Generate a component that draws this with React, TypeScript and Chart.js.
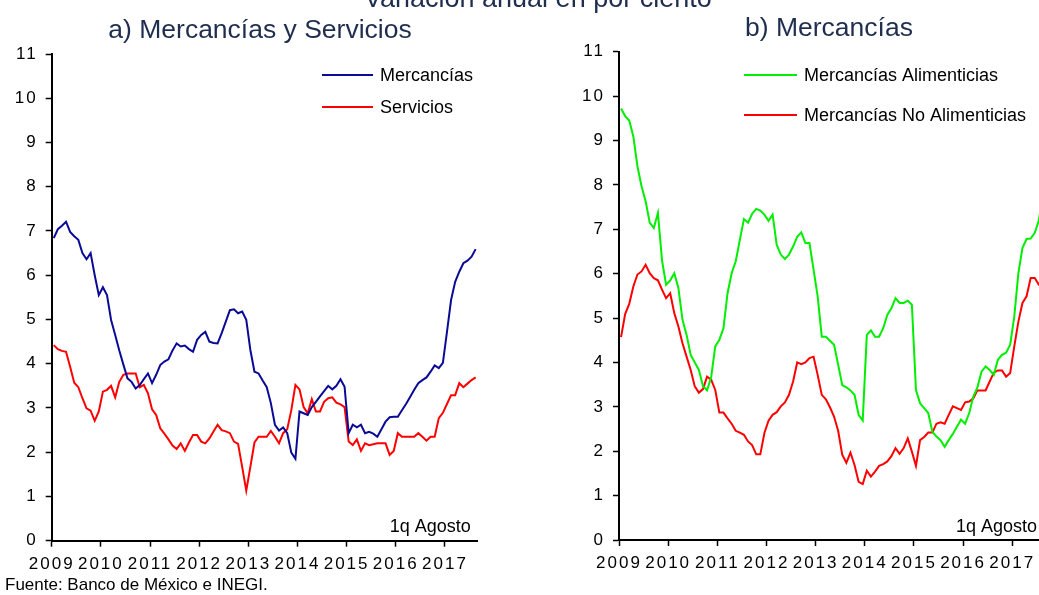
import React, { useEffect, useRef } from "react";
import { Chart, registerables } from "chart.js";

Chart.register(...registerables);

const FONT = "'Liberation Sans', Arial, sans-serif";
Chart.defaults.font.family = FONT;

// ---------- data ----------
const yearLabels = ["2009", "2010", "2011", "2012", "2013", "2014", "2015", "2016", "2017"];
const yearStarts = [0, 12, 24, 36, 48, 60, 72, 84, 96]; // month index of January of each year
const yTicks = [0, 1, 2, 3, 4, 5, 6, 7, 8, 9, 10, 11];
const MONTHS_SPAN = 104; // Jan 2009 .. Aug 2017 (1q Agosto)

// a) monthly annual inflation, Jan 2009 .. Aug 2017
const mercancias = [
  6.84, 7.04, 7.12, 7.21, 6.98, 6.88, 6.8, 6.5, 6.36, 6.5,
  6.0, 5.55, 5.73, 5.55, 4.99, 4.65, 4.3, 3.98, 3.67, 3.59,
  3.44, 3.52, 3.65, 3.78, 3.56, 3.75, 3.97, 4.05, 4.1, 4.3,
  4.46, 4.39, 4.41, 4.33, 4.27, 4.54, 4.65, 4.72, 4.5, 4.47,
  4.46, 4.69, 4.95, 5.21, 5.23, 5.14, 5.18, 4.99, 4.31, 3.82,
  3.78, 3.62, 3.47, 3.11, 2.62, 2.49, 2.56, 2.43, 1.99, 1.85,
  2.92, 2.88, 2.84, 3.02, 3.14, 3.26, 3.38, 3.5, 3.42, 3.5,
  3.65, 3.48, 2.43, 2.62, 2.56, 2.62, 2.43, 2.46, 2.42, 2.35,
  2.52, 2.69, 2.79, 2.8, 2.8, 2.95, 3.09, 3.25, 3.41, 3.56,
  3.63, 3.69, 3.82, 3.96, 3.9, 4.02, 4.72, 5.44, 5.85, 6.08,
  6.27, 6.33, 6.42, 6.59,
];
const servicios = [
  4.42, 4.33, 4.29, 4.27, 3.93, 3.57, 3.47, 3.22, 2.99, 2.94,
  2.71, 2.92, 3.37, 3.41, 3.5, 3.24, 3.59, 3.75, 3.78, 3.78,
  3.78, 3.47, 3.52, 3.33, 2.97, 2.84, 2.54, 2.42, 2.29, 2.15,
  2.07, 2.2, 2.03, 2.22, 2.39, 2.39, 2.24, 2.2, 2.31, 2.47,
  2.62, 2.5, 2.47, 2.43, 2.24, 2.19, 1.67, 1.13, 1.67, 2.22,
  2.35, 2.35, 2.35, 2.48, 2.35, 2.2, 2.43, 2.52, 2.95, 3.52,
  3.42, 3.02, 2.88, 3.2, 2.92, 2.92, 3.14, 3.22, 3.24, 3.12,
  3.08, 3.02, 2.24, 2.16, 2.29, 2.03, 2.2, 2.16, 2.18, 2.2,
  2.2, 2.2, 1.94, 2.03, 2.43, 2.35, 2.35, 2.35, 2.35, 2.43,
  2.35, 2.26, 2.35, 2.35, 2.77, 2.89, 3.09, 3.29, 3.29, 3.56,
  3.47, 3.55, 3.63, 3.69,
];

// b)
const alimenticias = [
  9.72, 9.55, 9.45, 9.09, 8.42, 7.97, 7.63, 7.15, 7.03, 7.37,
  6.3, 5.75, 5.85, 6.01, 5.68, 4.96, 4.62, 4.17, 4.0, 3.83,
  3.47, 3.37, 3.67, 4.36, 4.51, 4.77, 5.56, 6.01, 6.28, 6.76,
  7.23, 7.15, 7.35, 7.46, 7.42, 7.33, 7.19, 7.33, 6.65, 6.43,
  6.33, 6.43, 6.61, 6.83, 6.93, 6.69, 6.69, 6.09, 5.49, 4.58,
  4.58, 4.49, 4.4, 3.95, 3.49, 3.44, 3.37, 3.27, 2.82, 2.69,
  4.62, 4.72, 4.58, 4.58, 4.77, 5.07, 5.22, 5.45, 5.34, 5.34,
  5.39, 5.3, 3.38, 3.08, 2.97, 2.86, 2.44, 2.33, 2.25, 2.1,
  2.25, 2.39, 2.55, 2.71, 2.62, 2.86, 3.23, 3.44, 3.79, 3.91,
  3.83, 3.72, 4.06, 4.17, 4.22, 4.4, 5.03, 6.01, 6.58, 6.78,
  6.79, 6.92, 7.2, 7.8,
];
const noAlimenticias = [
  4.57, 5.09, 5.32, 5.71, 5.98, 6.05, 6.2, 6.01, 5.9, 5.85,
  5.64, 5.45, 5.56, 5.11, 4.81, 4.43, 4.13, 3.83, 3.46, 3.32,
  3.4, 3.68, 3.61, 3.38, 2.87, 2.87, 2.74, 2.62, 2.46, 2.42,
  2.37, 2.22, 2.14, 1.93, 1.93, 2.41, 2.69, 2.82, 2.88, 3.01,
  3.1, 3.27, 3.57, 4.0, 3.96, 4.0, 4.1, 4.13, 3.72, 3.27,
  3.17, 2.99, 2.78, 2.46, 1.92, 1.74, 1.97, 1.69, 1.31, 1.26,
  1.56, 1.43, 1.54, 1.67, 1.71, 1.77, 1.89, 2.07, 1.94, 2.07,
  2.29, 1.99, 1.67, 2.25, 2.32, 2.42, 2.42, 2.62, 2.65, 2.62,
  2.82, 3.01, 2.97, 2.93, 3.1, 3.12, 3.19, 3.37, 3.37, 3.37,
  3.57, 3.77, 3.82, 3.82, 3.68, 3.76, 4.36, 4.92, 5.34, 5.49,
  5.9, 5.9, 5.75, 5.7,
];

const mainTitle = "Variación anual en por ciento";
const titleA = "a) Mercancías y Servicios";
const titleB = "b) Mercancías";
const noteText = "1q Agosto";
const sourceText = "Fuente: Banco de México e INEGI.";

// ---------- helpers ----------
const toPoints = (arr: number[]) => arr.map((v, i) => ({ x: i + 0.5, y: v })); // mid-month

const decorPlugin = {
  id: "decor",
  beforeDraw(chart: any) {
    // tick labels in the reference are rendered with a little extra tracking
    (chart.ctx as any).letterSpacing = "2px";
  },
  afterDraw(chart: any, _args: any, opts: any) {
    const { ctx, chartArea } = chart;
    ctx.save();
    (ctx as any).letterSpacing = "0px";
    // panel title
    ctx.font = `26.5px ${FONT}`;
    ctx.fillStyle = "#1F2E4E";
    ctx.textAlign = "center";
    ctx.textBaseline = "alphabetic";
    ctx.fillText(opts.title, opts.titleX, opts.titleY);
    // legend
    chart.data.datasets.forEach((ds: any, i: number) => {
      const y = opts.legendY + i * opts.legendGap;
      ctx.strokeStyle = ds.borderColor;
      ctx.lineWidth = 2.2;
      ctx.beginPath();
      ctx.moveTo(opts.legendX, y);
      ctx.lineTo(opts.legendX + opts.legendLine, y);
      ctx.stroke();
      ctx.font = `18px ${FONT}`;
      ctx.fillStyle = "#000";
      ctx.textAlign = "left";
      ctx.textBaseline = "middle";
      ctx.fillText(ds.label, opts.legendX + opts.legendLine + 7, y + 1);
    });
    // note
    ctx.font = `18px ${FONT}`;
    ctx.fillStyle = "#000";
    ctx.textAlign = "right";
    ctx.textBaseline = "alphabetic";
    ctx.fillText(noteText, chartArea.right - opts.noteRight, chartArea.bottom - 8.5);
    // source
    if (opts.source) {
      ctx.font = `17px ${FONT}`;
      ctx.textAlign = "left";
      ctx.fillText(opts.source, 5, 590);
    }
    ctx.restore();
    (ctx as any).letterSpacing = "0px";
  },
};

function makeConfig(
  series: { label: string; data: number[]; color: string }[],
  padding: any,
  decor: any
): any {
  return {
    type: "line",
    data: {
      datasets: series.map((s) => ({
        label: s.label,
        data: toPoints(s.data),
        borderColor: s.color,
        backgroundColor: s.color,
        borderWidth: 2,
        pointRadius: 0,
        tension: 0,
        fill: false,
      })),
    },
    options: {
      responsive: false,
      animation: false,
      events: [],
      layout: { padding },
      plugins: {
        legend: { display: false },
        title: { display: false },
        tooltip: { enabled: false },
        decor,
      },
      scales: {
        x: {
          type: "linear",
          min: 0,
          max: MONTHS_SPAN,
          afterBuildTicks: (scale: any) => {
            scale.ticks = yearStarts.map((v) => ({ value: v }));
          },
          afterFit: (scale: any) => {
            scale.height = 34;
          },
          ticks: {
            autoSkip: false,
            maxRotation: 0,
            padding: 7,
            color: "#000",
            font: { size: 17, family: FONT },
            callback: (v: number) => yearLabels[yearStarts.indexOf(v)],
          },
          grid: {
            drawOnChartArea: false,
            drawTicks: true,
            tickLength: 6,
            tickColor: "#000",
            tickWidth: 1.5,
          },
          border: { display: true, color: "#000", width: 2 },
        },
        y: {
          type: "linear",
          min: 0,
          max: 11,
          afterBuildTicks: (scale: any) => {
            scale.ticks = yTicks.map((v) => ({ value: v }));
          },
          afterFit: (scale: any) => {
            scale.width = 40;
          },
          ticks: {
            padding: 8,
            color: "#000",
            font: { size: 17, family: FONT },
            callback: (v: number) => String(v),
          },
          grid: {
            drawOnChartArea: false,
            drawTicks: true,
            tickLength: 6,
            tickColor: "#000",
            tickWidth: 1.5,
          },
          border: { display: true, color: "#000", width: 2 },
        },
      },
    },
    plugins: [decorPlugin],
  };
}

function ChartCanvas({ config, width, height, left }: any) {
  const ref = useRef<HTMLCanvasElement | null>(null);
  useEffect(() => {
    if (!ref.current) return;
    const chart = new Chart(ref.current, config);
    return () => chart.destroy();
  }, []);
  return (
    <canvas
      ref={ref}
      width={width}
      height={height}
      style={{ position: "absolute", left, top: 0, width, height }}
    />
  );
}

export default function App() {
  const configA = makeConfig(
    [
      { label: "Mercancías", data: mercancias, color: "#0A0A96" },
      { label: "Servicios", data: servicios, color: "#FF0000" },
    ],
    { left: 11.7, right: 42.3, top: 54, bottom: 20.3 },
    {
      title: titleA,
      titleX: 260,
      titleY: 38,
      legendX: 322,
      legendY: 75,
      legendGap: 32,
      legendLine: 51,
      noteRight: 7,
      source: sourceText,
    }
  );
  const configB = makeConfig(
    [
      { label: "Mercancías Alimenticias", data: alimenticias, color: "#00EE00" },
      { label: "Mercancías No Alimenticias", data: noAlimenticias, color: "#FF0000" },
    ],
    { left: 59, right: 15, top: 51.7, bottom: 21 },
    {
      title: titleB,
      titleX: 309,
      titleY: 36,
      legendX: 224,
      legendY: 75,
      legendGap: 40,
      legendLine: 53,
      noteRight: 8,
      source: "",
    }
  );

  return (
    <div
      style={{
        position: "absolute",
        left: 0,
        top: 0,
        width: 1039,
        height: 595,
        overflow: "hidden",
        background: "#fff",
      }}
    >
      <ChartCanvas config={configA} width={520} height={595} left={0} />
      <ChartCanvas config={configB} width={540} height={595} left={520} />
      <div
        style={{
          position: "absolute",
          left: 364,
          top: -15,
          fontFamily: FONT,
          fontSize: 27,
          lineHeight: "26px",
          color: "#1F2E4E",
          whiteSpace: "nowrap",
        }}
      >
        {mainTitle}
      </div>
    </div>
  );
}
